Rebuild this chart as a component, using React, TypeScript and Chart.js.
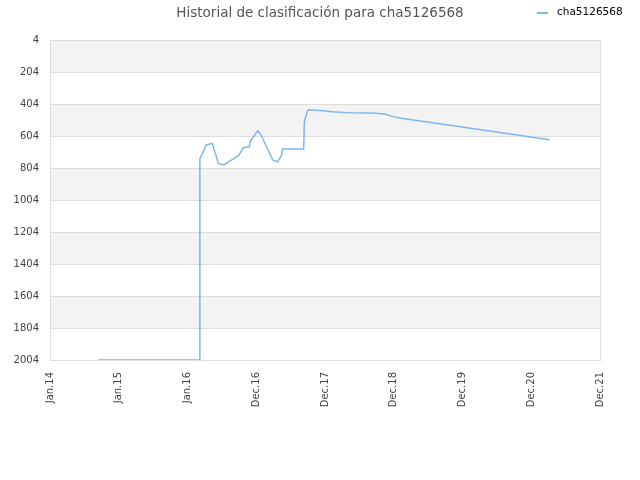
import React, { useEffect, useRef } from "react";
import { Chart, registerables } from "chart.js";

Chart.register(...registerables);

const titleText = "Historial de clasificación para cha5126568";
const seriesLabel = "cha5126568";
const xLabels = ["Jan.14", "Jan.15", "Jan.16", "Dec.16", "Dec.17", "Dec.18", "Dec.19", "Dec.20", "Dec.21"];
const yTicks = [4, 204, 404, 604, 804, 1004, 1204, 1404, 1604, 1804, 2004];
const xPos = [0.70, 2.18, 2.18, 2.22, 2.27, 2.36, 2.45, 2.53, 2.75, 2.81, 2.90, 2.91, 3.02, 3.07, 3.24, 3.31, 3.37, 3.38, 3.69, 3.70, 3.74, 3.76, 3.97, 4.10, 4.34, 4.68, 4.87, 4.99, 5.09, 7.27];
const ranks = [2004, 2004, 745, 712, 660, 650, 775, 785, 723, 677, 671, 640, 571, 598, 754, 766, 723, 685, 685, 515, 452, 440, 446, 452, 458, 460, 466, 483, 491, 627];

const lineColor = "rgba(125,182,240,1)";

const bandsPlugin = {
  id: "bands",
  beforeDraw(chart: any) {
    const { ctx, chartArea, scales } = chart;
    const y = scales.y;
    ctx.save();
    for (let i = 0; i < yTicks.length - 1; i++) {
      if (i % 2 === 0) {
        const a = y.getPixelForValue(yTicks[i]);
        const b = y.getPixelForValue(yTicks[i + 1]);
        ctx.fillStyle = "#f3f3f3";
        ctx.fillRect(chartArea.left, Math.min(a, b), chartArea.right - chartArea.left, Math.abs(b - a));
      }
    }
    ctx.restore();
  },
  afterDraw(chart: any) {
    const { ctx, chartArea } = chart;
    ctx.save();
    ctx.strokeStyle = "#dddddd";
    ctx.lineWidth = 1;
    ctx.strokeRect(chartArea.left + 0.5, chartArea.top + 0.5, chartArea.right - chartArea.left, chartArea.bottom - chartArea.top);
    // legend
    ctx.strokeStyle = lineColor;
    ctx.lineWidth = 2;
    ctx.beginPath();
    ctx.moveTo(537, 13);
    ctx.lineTo(548, 13);
    ctx.stroke();
    ctx.fillStyle = "#000";
    ctx.font = "10.5px 'DejaVu Sans'";
    ctx.textBaseline = "middle";
    ctx.textAlign = "left";
    ctx.fillText(seriesLabel, 557, 12);
    ctx.restore();
  },
};

export default function App() {
  const ref = useRef<HTMLCanvasElement>(null);
  useEffect(() => {
    document.body.style.margin = "0";
    const chart = new Chart(ref.current!, {
      type: "line",
      data: {
        datasets: [
          {
            label: seriesLabel,
            data: xPos.map((x, i) => ({ x, y: ranks[i] })),
            borderColor: lineColor,
            backgroundColor: lineColor,
            borderWidth: 1.5,
            pointRadius: 0,
            tension: 0,
          },
        ],
      },
      options: {
        animation: false,
        responsive: false,
        layout: { padding: 0 },
        plugins: {
          legend: { display: false },
          tooltip: { enabled: false },
          title: {
            display: true,
            text: titleText,
            color: "#555",
            font: { family: "'DejaVu Sans'", size: 13.5, weight: "normal" as any },
            padding: { top: 5, bottom: 18.8 },
          },
        },
        scales: {
          x: {
            type: "linear",
            min: 0,
            max: 8,
            afterBuildTicks(scale: any) {
              scale.ticks = xLabels.map((_, i) => ({ value: i }));
            },
            afterFit(scale: any) {
              scale.height = 120;
            },
            grid: { display: false, drawTicks: false },
            border: { display: false },
            ticks: {
              autoSkip: false,
              minRotation: 90,
              maxRotation: 90,
              padding: 12,
              color: "#444",
              font: { family: "'DejaVu Sans'", size: 10 },
              callback: (v: any) => xLabels[v] ?? "",
            },
          },
          y: {
            type: "linear",
            reverse: true,
            min: 4,
            max: 2004,
            afterBuildTicks(scale: any) {
              scale.ticks = yTicks.map((v) => ({ value: v }));
            },
            afterFit(scale: any) {
              scale.width = 50;
            },
            grid: { color: "#dddddd", drawTicks: false },
            border: { display: false },
            ticks: {
              padding: 11,
              color: "#444",
              font: { family: "'DejaVu Sans'", size: 10 },
              callback: (v: any) => String(v),
            },
          },
          yRight: {
            type: "linear",
            position: "right",
            display: true,
            min: 4,
            max: 2004,
            afterFit(scale: any) {
              scale.width = 40;
            },
            grid: { display: false, drawTicks: false },
            border: { display: false },
            ticks: { display: false },
          },
        },
      },
      plugins: [bandsPlugin],
    });
    return () => chart.destroy();
  }, []);
  return (
    <div style={{ position: "absolute", left: 0, top: 0, width: 640, height: 480, background: "#fff" }}>
      <canvas ref={ref} width={640} height={480} />
    </div>
  );
}
